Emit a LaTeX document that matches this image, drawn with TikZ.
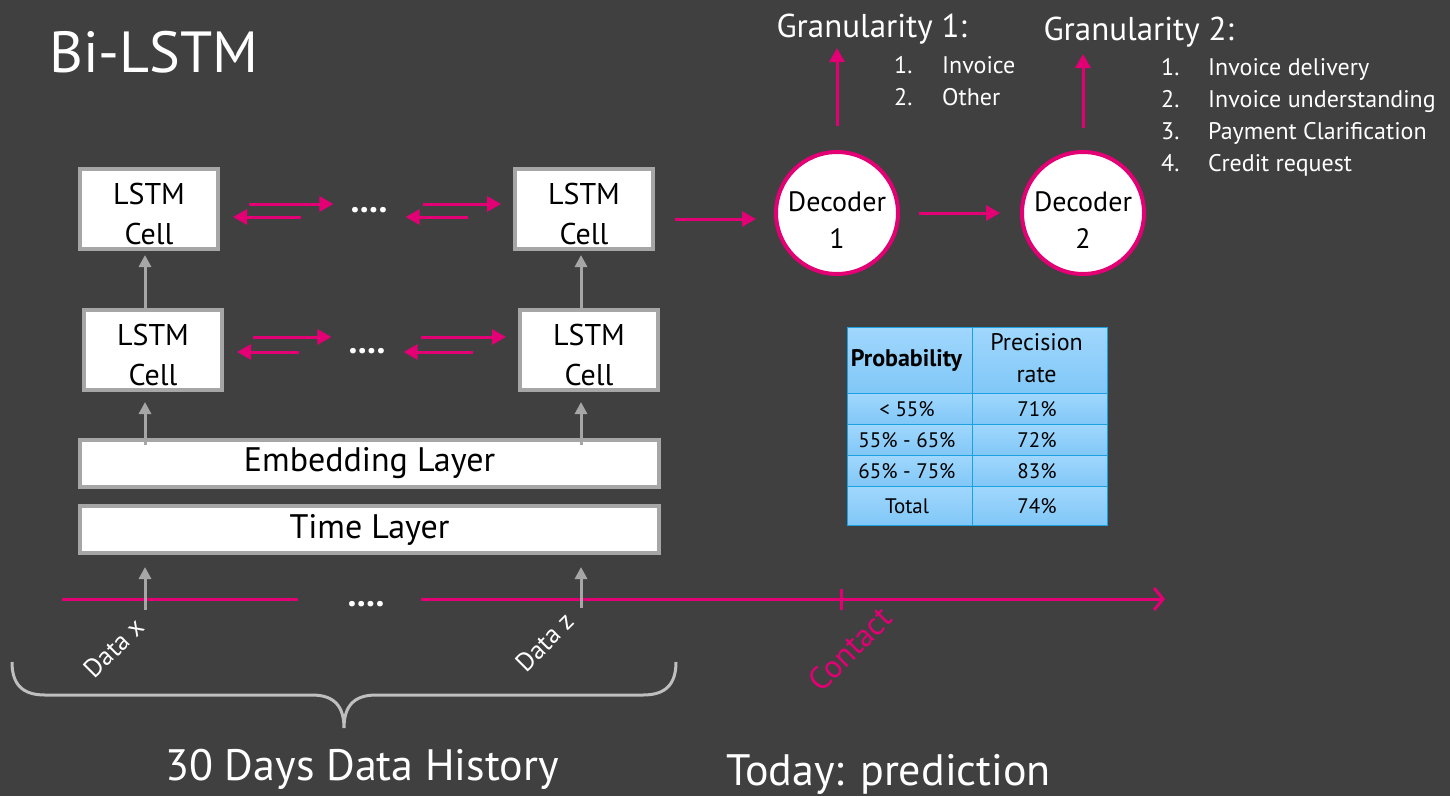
\documentclass[tikz,border=0pt]{standalone}
\usepackage{fontspec}
\setmainfont{PT Sans}
\usepackage{tikz}
\usetikzlibrary{positioning,arrows.meta,calc,matrix}
\usepackage{xcolor}

\definecolor{bg}{HTML}{404040}
\definecolor{tmag}{HTML}{E20074}
\definecolor{boxgray}{HTML}{A6A6A6}
\definecolor{bracegray}{HTML}{BFBFBF}
\definecolor{tblline}{HTML}{1BA1E2}
\definecolor{tbltop}{HTML}{A0D7FD}
\definecolor{tblbot}{HTML}{80C7F7}
\newcommand{\fsz}[2]{\fontsize{#1}{#2}\selectfont}

\begin{document}
\begin{tikzpicture}[x=1pt, y=-1pt,
  every node/.style={text=white},
  cell/.style={draw=boxgray, line width=4pt, fill=white, text=black, minimum width=138pt, minimum height=80pt, inner sep=0pt, text height=71pt, align=center, font=\fsz{30}{40}},
  layerbox/.style={draw=boxgray, line width=4pt, fill=white, text=black, minimum width=579pt, minimum height=47pt, inner sep=0pt, font=\fsz{34}{40}},
  dec/.style={circle, draw=tmag, line width=4pt, fill=white, text=black, minimum size=122pt, inner sep=0pt, text height=70pt, align=center, font=\fsz{28}{37}},
  dots/.style={inner sep=0pt, font=\bfseries\fsz{36}{40}},
  pk/.style={draw=tmag, line width=3pt, -{Triangle[length=14pt,width=15pt]}},
  up/.style={draw=boxgray, line width=3pt, -{Triangle[length=12pt,width=12pt]}},
  axis/.style={draw=tmag, line width=3pt},
  brace line/.style={draw=bracegray, line width=3pt}]

\path[use as bounding box, fill=bg] (0,0) rectangle (1450,796);

\node[anchor=base west, font=\fsz{58}{64}] (title) at (46,72) {Bi-LSTM};

% two stacked rows of cells
\node[cell] (c1) at (149,209) {LSTM\\Cell};
\node[cell] (c2) at (584,209) {LSTM\\Cell};
\node[cell] (c3) at (153,350) {LSTM\\Cell};
\node[cell] (c4) at (589,350) {LSTM\\Cell};
\node[dots] (d1) at (369,210) {....};
\node[dots] (d2) at (367,351) {....};

\foreach \l/\d/\r/\ya/\yb in {c1/d1/c2/5/-8, c3/d2/c4/13/-2} {
  \draw[pk, shorten <=29pt, shorten >=17pt] ([yshift=\ya pt]\l.east) -- ([yshift=\ya pt]\l.east -| \d.west);
  \draw[pk, shorten <=49pt, shorten >=13pt] ([yshift=\yb pt]\l.east -| \d.west) -- ([yshift=\yb pt]\l.east);
  \draw[pk, shorten <=35pt, shorten >=12pt] ([yshift=\ya pt]\l.east -| \d.east) -- ([yshift=\ya pt]\l.east -| \r.west);
  \draw[pk, shorten <=45pt, shorten >=18pt] ([yshift=\yb pt]\l.east -| \r.west) -- ([yshift=\yb pt]\l.east -| \d.east);
}

\node[layerbox] (emb) at (369.5,463.5) {Embedding Layer};
\node[layerbox] (time) at (369.5,529.5) {Time Layer};

\draw[up, shorten >=4pt] ([xshift=-8pt]c3.north) -- ([xshift=-8pt]c3.north |- c1.south);
\draw[up, shorten >=4pt] ([xshift=-8pt]c4.north) -- ([xshift=-8pt]c4.north |- c2.south);
\draw[up, shorten >=10pt] ([xshift=-8pt,yshift=-7pt]c3.south |- emb.north) -- ([xshift=-8pt]c3.south);
\draw[up, shorten >=10pt] ([xshift=-8pt,yshift=-7pt]c4.south |- emb.north) -- ([xshift=-8pt]c4.south);

% time axis
\coordinate (t0) at (62,599);
\coordinate (t1) at (298,599);
\coordinate (t2) at (421,599);
\coordinate (t3) at (1165,599);
\coordinate (now) at (841,599);
\node[dots] (d3) at (366,604) {....};
\draw[axis] (t0) -- (t1);
\draw[axis, -{Straight Barb[length=9pt,width=22pt]}] (t2) -- (t3);
\draw[axis] ([yshift=10pt]now) -- ([yshift=-11pt]now);

\coordinate (dx) at (145,610);
\coordinate (dz) at (581,608);
\draw[up, shorten >=12pt] (dx) -- (dx |- time.south);
\draw[up, shorten >=12pt] (dz) -- (dz |- time.south);

\node[rotate=45, font=\fsz{26}{30}] (lx) at (114,648) {Data x};
\node[rotate=45, font=\fsz{26}{30}] (lz) at (545,642) {Data z};
\node[rotate=45, text=tmag, font=\fsz{32}{36}] (lc) at (850,649) {Contact};

\draw[brace line] (12,662) .. controls (12,684) and (22,695) .. (45,695) -- (312,695)
  .. controls (334,695) and (344,706) .. (344,728)
  .. controls (344,706) and (354,695) .. (376,695) -- (643,695)
  .. controls (666,695) and (676,684) .. (676,662);

\node[anchor=base, font=\fsz{44}{50}] (hist) at (362,780) {30 Days Data History};
\node[anchor=base west, font=\fsz{44}{50}] (today) at (723,785) {Today: prediction};

% decoders
\node[dec] (dec1) at (837,213) {Decoder\\1};
\node[dec] (dec2) at (1083,213) {Decoder\\2};
\draw[pk, shorten <=20pt, shorten >=18pt] ([yshift=-10pt]c2.east) -- ([yshift=-10pt]c2.east -| dec1.west);
\draw[pk, shorten <=19pt, shorten >=20pt] (dec1) -- (dec2);
\draw[pk] ([yshift=24pt]dec1.north) -- ++(0,-78);
\draw[pk] ([yshift=22pt]dec2.north) -- ++(0,-74);

\node[anchor=base west, font=\fsz{33}{40}] (g1) at (773,37) {Granularity 1:};
\node[anchor=base west, font=\fsz{33}{40}] (g2) at (1040,40) {Granularity 2:};
\node[anchor=base west, inner sep=0pt, font=\fsz{24}{32}] (g1list) at (894,73)
  {\begin{tabular}[t]{@{}p{48pt}@{}l@{}}1. & Invoice\\ 2. & Other\end{tabular}};
\node[anchor=base west, inner sep=0pt, font=\fsz{24}{32}] (g2list) at (1161,75)
  {\begin{tabular}[t]{@{}p{47pt}@{}l@{}}1. & Invoice delivery\\ 2. & Invoice understanding\\
   3. & Payment Clarification\\ 4. & Credit request\end{tabular}};

\matrix (prob) [matrix of nodes, anchor=north west, column sep=-1.5pt, row sep=-1.5pt,
  nodes={draw=tblline, line width=1.5pt, top color=tbltop, bottom color=tblbot, text=black,
    minimum height=31pt, inner sep=1pt, align=center, font=\fsz{21}{24}},
  column 1/.style={nodes={minimum width=125pt}},
  column 2/.style={nodes={minimum width=135pt}},
  row 1/.style={nodes={minimum height=66pt, font=\fsz{24}{32}}},
  row 5/.style={nodes={minimum height=39pt}}] at (843,323) {
  \textbf{Probability} & \begin{tabular}{@{}c@{}}Precision\\ rate\end{tabular} \\
  < 55\% & 71\% \\
  55\% - 65\% & 72\% \\
  65\% - 75\% & 83\% \\
  Total & 74\% \\
};

\end{tikzpicture}
\end{document}
